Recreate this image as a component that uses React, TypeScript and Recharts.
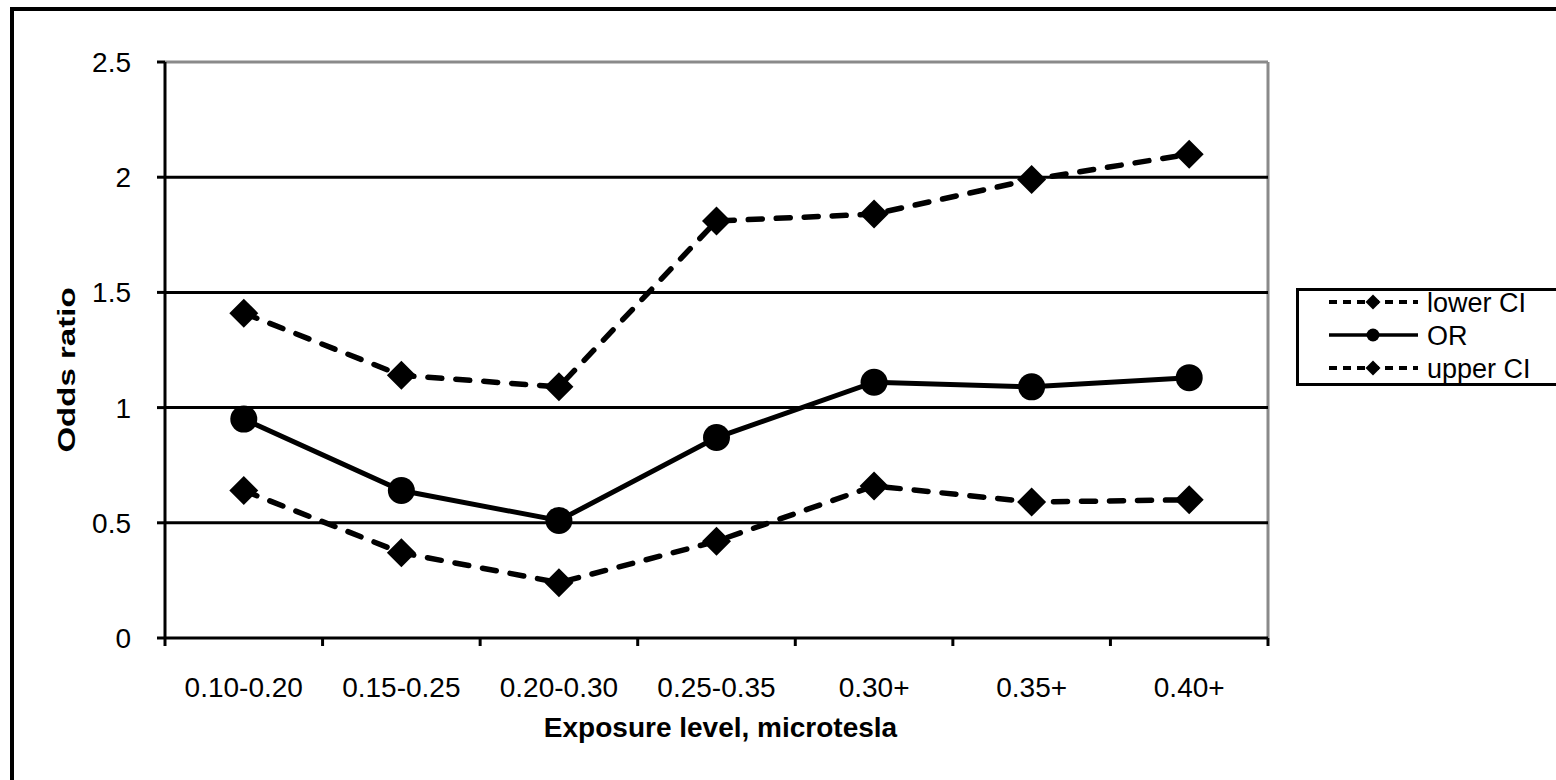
import React from "react";
import {
  LineChart,
  Line,
  XAxis,
  YAxis,
  ReferenceLine,
} from "recharts";

const categories = ["0.10-0.20", "0.15-0.25", "0.20-0.30", "0.25-0.35", "0.30+", "0.35+", "0.40+"];
const lowerCI = [0.64, 0.37, 0.24, 0.42, 0.66, 0.59, 0.6];
const oddsRatio = [0.95, 0.64, 0.51, 0.87, 1.11, 1.09, 1.13];
const upperCI = [1.41, 1.14, 1.09, 1.81, 1.84, 1.99, 2.1];
const yTicks = [0, 0.5, 1, 1.5, 2, 2.5];
const gridValues = [0.5, 1, 1.5, 2];

const series = [
  { key: "lower", name: "lower CI", marker: "diamond", dashed: true },
  { key: "or", name: "OR", marker: "circle", dashed: false },
  { key: "upper", name: "upper CI", marker: "diamond", dashed: true },
];

const data = categories.map((cat, i) => ({
  cat,
  lower: lowerCI[i],
  or: oddsRatio[i],
  upper: upperCI[i],
}));

const FONT = "'Liberation Sans', Arial, sans-serif";
const W = 1556;
const H = 780;
const X_TICK_SIZE = 6;
const X_TICK_MARGIN = 33;

const Diamond = (props: any) => {
  const { cx, cy } = props;
  if (cx == null || cy == null) return null;
  const r = 14.5;
  return (
    <polygon
      points={`${cx},${cy - r} ${cx + r},${cy} ${cx},${cy + r} ${cx - r},${cy}`}
      fill="#000"
    />
  );
};

const Circle = (props: any) => {
  const { cx, cy } = props;
  if (cx == null || cy == null) return null;
  return <circle cx={cx} cy={cy} r={13.5} fill="#000" />;
};

// category label plus Excel-style tick marks on the band edges
const XTick = (props: any) => {
  const { x, y, payload, index, visibleTicksCount } = props;
  const half = payload.offset || 0;
  const axisY = y - X_TICK_SIZE - X_TICK_MARGIN;
  const last = index === visibleTicksCount - 1;
  return (
    <g>
      <line x1={x - half} x2={x - half} y1={axisY} y2={axisY + 8} stroke="#000" strokeWidth={3} />
      {last && (
        <line x1={x + half} x2={x + half} y1={axisY} y2={axisY + 8} stroke="#000" strokeWidth={3} />
      )}
      <text
        x={x}
        y={y}
        dy="0.71em"
        textAnchor="middle"
        fontSize={28}
        fontFamily={FONT}
        fill="#000"
      >
        {payload.value}
      </text>
    </g>
  );
};

function LegendBox() {
  return (
    <svg
      width={260}
      height={100}
      style={{ position: "absolute", left: 1296, top: 288, overflow: "visible" }}
    >
      <rect x={1.5} y={1.5} width={300} height={95} fill="#fff" stroke="#000" strokeWidth={3} />
      {series.map((s, i) => {
        const y = 14 + i * 33;
        return (
          <g key={s.key}>
            <line
              x1={33}
              x2={122}
              y1={y}
              y2={y}
              stroke="#000"
              strokeWidth={s.dashed ? 4 : 3.5}
              strokeDasharray={s.dashed ? "8 6" : undefined}
            />
            {s.marker === "diamond" ? (
              <polygon
                points={`77,${y - 7.5} 84.5,${y} 77,${y + 7.5} 69.5,${y}`}
                fill="#000"
              />
            ) : (
              <circle cx={77} cy={y} r={6.5} fill="#000" />
            )}
            <text
              x={131}
              y={y}
              dy="0.36em"
              fontSize={27}
              fontFamily={FONT}
              fill="#000"
            >
              {s.name}
            </text>
          </g>
        );
      })}
    </svg>
  );
}

export default function App() {
  return (
    <div
      style={{
        position: "fixed",
        left: 0,
        top: 0,
        width: W,
        height: H,
        overflow: "hidden",
        background: "#fff",
      }}
    >
      <div
        style={{
          position: "absolute",
          left: 10,
          top: 7,
          width: W + 100,
          height: H + 100,
          border: "4px solid #000",
        }}
      />
      <div style={{ position: "absolute", left: 0, top: 0 }}>
        <LineChart
          width={W}
          height={H}
          data={data}
          margin={{ top: 62, right: 288, bottom: 0, left: 0 }}
        >
          <XAxis
            dataKey="cat"
            type="category"
            scale="band"
            height={142}
            axisLine={{ stroke: "#000", strokeWidth: 3 }}
            tickLine={false}
            tickSize={X_TICK_SIZE}
            tickMargin={X_TICK_MARGIN}
            tick={<XTick />}
            interval={0}
            label={{
              content: ({ viewBox }: any) => (
                <text
                  x={viewBox.x + viewBox.width / 2 + 4}
                  y={viewBox.y + 99}
                  textAnchor="middle"
                  fontSize={28}
                  fontWeight="bold"
                  fontFamily={FONT}
                  fill="#000"
                >
                  Exposure level, microtesla
                </text>
              ),
            }}
          />
          <YAxis
            type="number"
            domain={[0, 2.5]}
            ticks={yTicks}
            width={165}
            tickSize={8}
            tickMargin={26}
            axisLine={{ stroke: "#000", strokeWidth: 3 }}
            tickLine={{ stroke: "#000", strokeWidth: 3 }}
            tick={{ fontSize: 28, fill: "#000", fontFamily: FONT }}
            label={{
              content: () => (
                <text
                  transform="translate(75,370) rotate(-90) scale(1.18,0.85)"
                  textAnchor="middle"
                  fontSize={28}
                  fontWeight="bold"
                  fontFamily={FONT}
                  fill="#000"
                >
                  Odds ratio
                </text>
              ),
            }}
          />
          <ReferenceLine y={2.5} stroke="#8a8a8a" strokeWidth={3} />
          <ReferenceLine
            x={categories[categories.length - 1]}
            position="end"
            ifOverflow="visible"
            stroke="#8a8a8a"
            strokeWidth={3}
          />
          {gridValues.map((v) => (
            <ReferenceLine key={v} y={v} stroke="#000" strokeWidth={3} />
          ))}
          {series.map((s) => (
            <Line
              key={s.key}
              dataKey={s.key}
              name={s.name}
              stroke="#000"
              strokeWidth={s.dashed ? 5.5 : 5}
              strokeDasharray={s.dashed ? "14 14" : undefined}
              strokeLinecap="round"
              dot={s.marker === "diamond" ? <Diamond /> : <Circle />}
              activeDot={false}
              isAnimationActive={false}
            />
          ))}
        </LineChart>
      </div>
      <LegendBox />
    </div>
  );
}
